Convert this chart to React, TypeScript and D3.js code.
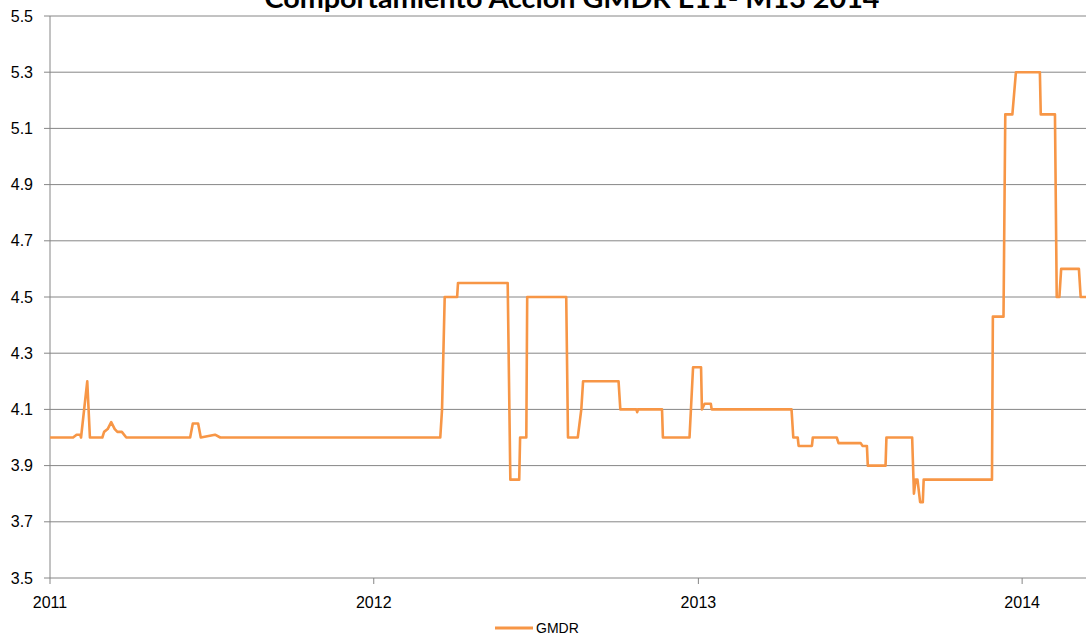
import React from "react";
import * as d3 from "d3";

const TITLE = "Comportamiento Acción GMDR E11- M13 2014";
const SERIES_NAME = "GMDR";

const dates: string[] = [
  "2011-01-01", "2011-01-27", "2011-01-31", "2011-02-04", "2011-02-05", "2011-02-12", "2011-02-15",
  "2011-03-01", "2011-03-03", "2011-03-07", "2011-03-11", "2011-03-15", "2011-03-18", "2011-03-23",
  "2011-03-28", "2011-06-08", "2011-06-11", "2011-06-17", "2011-06-20", "2011-07-06", "2011-07-12",
  "2012-03-16", "2012-03-18", "2012-03-21", "2012-04-04", "2012-04-05", "2012-05-31", "2012-06-03",
  "2012-06-13", "2012-06-14", "2012-06-21", "2012-06-22", "2012-08-05", "2012-08-07", "2012-08-18",
  "2012-08-22", "2012-08-24", "2012-10-03", "2012-10-05", "2012-10-23", "2012-10-24", "2012-10-25",
  "2012-11-21", "2012-11-22", "2012-12-22", "2012-12-26", "2013-01-04", "2013-01-05", "2013-01-08",
  "2013-01-15", "2013-01-16", "2013-04-16", "2013-04-18", "2013-04-23", "2013-04-24", "2013-05-09",
  "2013-05-10", "2013-06-06", "2013-06-08", "2013-07-03", "2013-07-05", "2013-07-10", "2013-07-11",
  "2013-07-31", "2013-08-01", "2013-08-30", "2013-09-01", "2013-09-03", "2013-09-05", "2013-09-08",
  "2013-09-11", "2013-09-12", "2013-11-28", "2013-11-29", "2013-12-11", "2013-12-13", "2013-12-21",
  "2013-12-25", "2014-01-21", "2014-01-22", "2014-02-07", "2014-02-09", "2014-02-12", "2014-02-14",
  "2014-03-06", "2014-03-08", "2014-03-14",
];

const values: number[] = [
  4.0, 4.0, 4.01, 4.01, 4.0, 4.2, 4.0,
  4.0, 4.02, 4.03, 4.055, 4.03, 4.02, 4.02,
  4.0, 4.0, 4.05, 4.05, 4.0, 4.01, 4.0,
  4.0, 4.1, 4.5, 4.5, 4.55, 4.55, 3.85,
  3.85, 4.0, 4.0, 4.5, 4.5, 4.0, 4.0,
  4.1, 4.2, 4.2, 4.1, 4.1, 4.09, 4.1,
  4.1, 4.0, 4.0, 4.25, 4.25, 4.1, 4.12,
  4.12, 4.1, 4.1, 4.0, 4.0, 3.97, 3.97,
  4.0, 4.0, 3.98, 3.98, 3.97, 3.97, 3.9,
  3.9, 4.0, 4.0, 3.8, 3.85, 3.85, 3.77,
  3.77, 3.85, 3.85, 4.43, 4.43, 5.15, 5.15,
  5.3, 5.3, 5.15, 5.15, 4.5, 4.5, 4.6,
  4.6, 4.5, 4.5,
];

const yTicks: number[] = [3.5, 3.7, 3.9, 4.1, 4.3, 4.5, 4.7, 4.9, 5.1, 5.3, 5.5];
const xTickYears: string[] = ["2011", "2012", "2013", "2014"];
const xDomain: string[] = ["2011-01-01", "2014-03-14"];

export default function App() {
  const W = 1086;
  const H = 638;
  const left = 50;
  const right = 1086;
  const top = 16;
  const bottom = 578;
  const parse = d3.utcParse("%Y-%m-%d");

  const x = d3
    .scaleUtc()
    .domain(xDomain.map((d) => parse(d) as Date))
    .range([left, right]);
  const y = d3.scaleLinear().domain([3.5, 5.5]).range([bottom, top]);

  const data = dates.map((d, i) => ({ date: parse(d) as Date, value: values[i] }));
  const line = d3
    .line<{ date: Date; value: number }>()
    .x((d) => x(d.date))
    .y((d) => y(d.value));

  const font = "'Liberation Sans', Arial, sans-serif";
  const grid = "#868686";
  const orange = "#F79646";

  return (
    <svg
      width={W}
      height={H}
      style={{ position: "absolute", left: 0, top: 0, background: "#fff" }}
      fontFamily={font}
    >
      <rect x={0} y={0} width={W} height={H} fill="#fff" />
      <text
        x={572}
        y={8}
        textAnchor="middle"
        fontFamily="Lato, 'Open Sans', sans-serif"
        fontWeight="bold"
        fontSize={27}
        textLength={615}
        lengthAdjust="spacingAndGlyphs"
        fill="#000"
      >
        {TITLE}
      </text>
      {yTicks.map((t) => (
        <g key={t}>
          <line x1={left - 6} x2={right} y1={y(t)} y2={y(t)} stroke={grid} strokeWidth={1} />
          <text x={left - 17} y={y(t)} dy="0.35em" textAnchor="end" fontSize={16} fill="#000">
            {t.toFixed(1)}
          </text>
        </g>
      ))}
      <line x1={left} x2={left} y1={top} y2={bottom} stroke={grid} strokeWidth={1} />
      {xTickYears.map((yr) => {
        const xp = x(parse(`${yr}-01-01`) as Date);
        return (
          <g key={yr}>
            <line x1={xp} x2={xp} y1={bottom} y2={bottom + 6} stroke={grid} strokeWidth={1} />
            <text x={xp} y={bottom + 24} dy="0.35em" textAnchor="middle" fontSize={16} fill="#000">
              {yr}
            </text>
          </g>
        );
      })}
      <path d={line(data) || ""} fill="none" stroke={orange} strokeWidth={2.6} strokeLinejoin="round" />
      <line x1={495} x2={533} y1={628} y2={628} stroke={orange} strokeWidth={3} />
      <text x={536} y={628} dy="0.35em" fontSize={14} fill="#000">
        {SERIES_NAME}
      </text>
    </svg>
  );
}
